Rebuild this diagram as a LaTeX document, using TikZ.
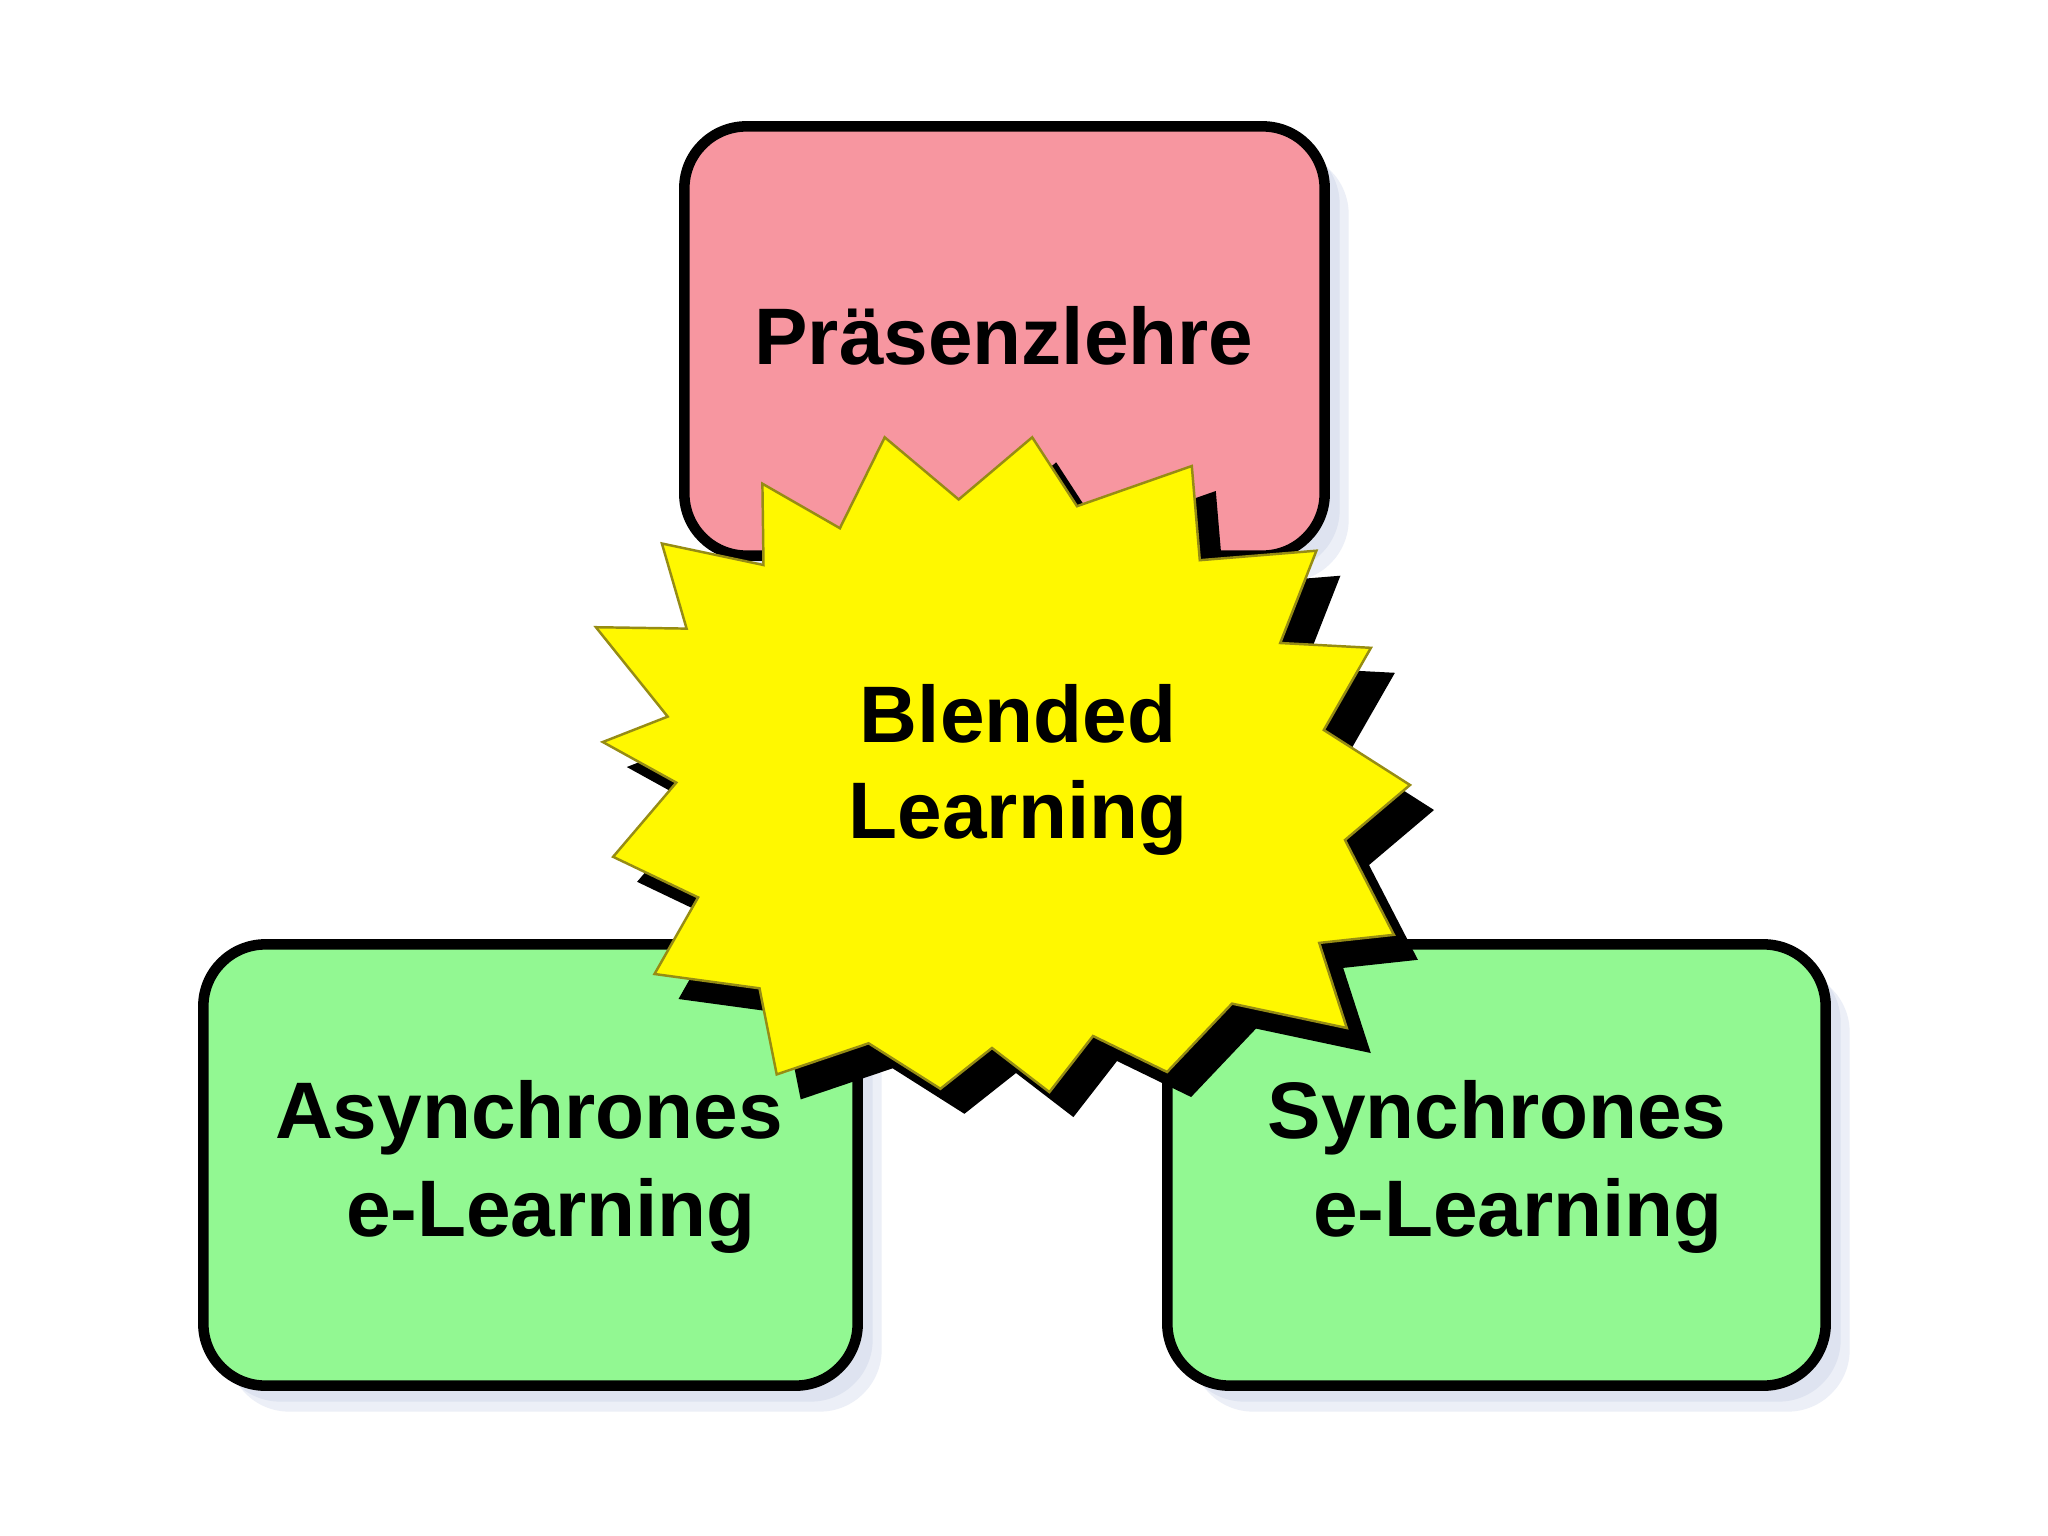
\documentclass[tikz,border=0pt]{standalone}
\usepackage{fontspec}
\setmainfont{Liberation Sans}
\definecolor{pinkc}{RGB}{247,150,160}
\definecolor{greenc}{RGB}{146,248,146}
\definecolor{yellowc}{RGB}{255,248,0}
\definecolor{starline}{RGB}{150,140,20}
\definecolor{shadowc}{RGB}{222,227,240}
\definecolor{shadowd}{RGB}{236,239,247}
\begin{document}
\begin{tikzpicture}[x=0.01cm,y=-0.01cm,
  boxshape/.style={rounded corners=0.62cm,inner sep=0pt,outer sep=0pt},
  box/.style={boxshape,draw=black,line width=3pt},
  shade1/.style={boxshape,fill=shadowd,draw=none},
  shade2/.style={boxshape,fill=shadowc,draw=none},
  lbl/.style={font=\fontsize{22.8pt}{27pt}\selectfont\bfseries,anchor=base,inner sep=0pt,text=black}]
\useasboundingbox[fill=white] (0,0) rectangle (2048,1536);

% box shadows
\foreach \cx/\cy/\w/\h in {1004.5/341/6.4/4.29, 530.5/1165/6.54/4.41, 1496.5/1165/6.58/4.41}{
  \node[shade1,minimum width=\w cm,minimum height=\h cm] at (\cx+24,\cy+26) {};
  \node[shade2,minimum width=\w cm,minimum height=\h cm] at (\cx+15,\cy+16) {};
}

% boxes
\node[box,fill=pinkc,minimum width=6.4cm,minimum height=4.29cm] (praesenz) at (1004.5,341) {};
\node[box,fill=greenc,minimum width=6.54cm,minimum height=4.41cm] (async) at (530.5,1165) {};
\node[box,fill=greenc,minimum width=6.58cm,minimum height=4.41cm] (sync) at (1496.5,1165) {};

% star
\def\starpath{(884.7,437.3) -- (958.7,499.5) -- (1032.2,437.3) -- (1077,506.2) -- (1191.8,466) -- (1199.8,560.2) -- (1316.4,550.7) -- (1280.2,643) -- (1370.9,647.8) -- (1323.8,730) -- (1410,785) -- (1345,840) -- (1393.9,934.8) -- (1319.2,942.9) -- (1346.8,1028) -- (1232,1003.6) -- (1167.1,1072) -- (1093,1036) -- (1049.4,1092.1) -- (992,1048) -- (940.4,1088.8) -- (868.6,1043.3) -- (776.7,1074.4) -- (759.5,988.3) -- (654.5,974) -- (698.1,897.4) -- (613.1,856.8) -- (676.3,782.6) -- (602.8,742) -- (667.7,716.6) -- (595.9,627.2) -- (686.6,628.6) -- (661.9,543.5) -- (763.5,565) -- (762.4,483.7) -- (839.9,528.2) -- cycle}
\fill[black,shift={(24,25)}] \starpath;
\filldraw[fill=yellowc,draw=starline,line width=0.7pt] \starpath;
\coordinate (starc) at (1000,760);

% labels
\node[lbl] (t1) at (1004,364) {Präsenzlehre};
\node[lbl] (t2) at (1018,742) {Blended};
\node[lbl] (t3) at (1018,838) {Learning};
\node[lbl] (t4) at (529,1138) {Asynchrones};
\node[lbl] (t5) at (551,1236) {e-Learning};
\node[lbl] (t6) at (1497,1138) {Synchrones};
\node[lbl] (t7) at (1518,1236) {e-Learning};
\end{tikzpicture}
\end{document}
